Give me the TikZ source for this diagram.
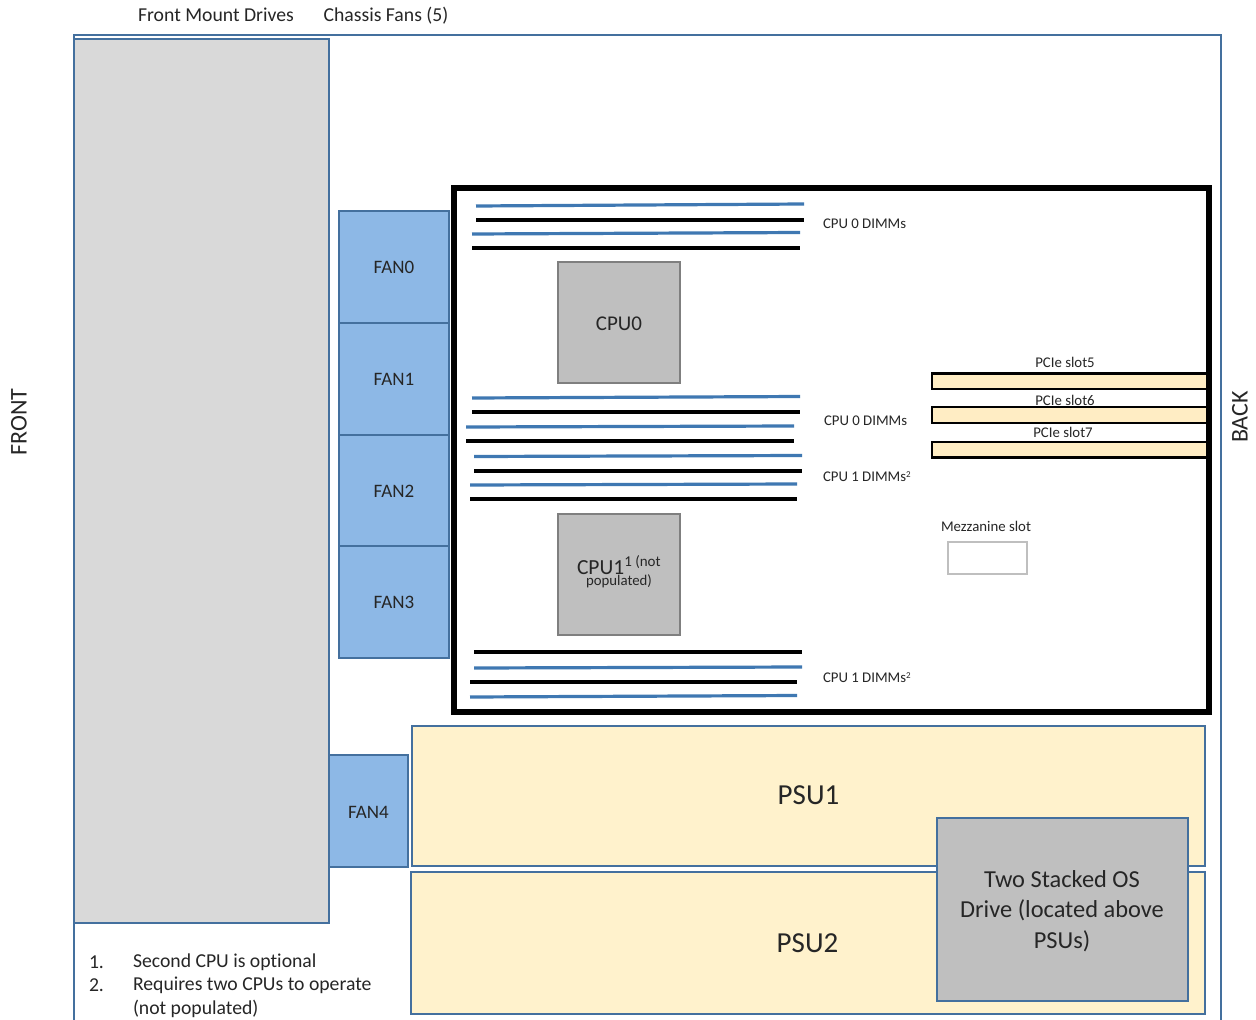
\documentclass[tikz,border=0pt]{standalone}
\usepackage{fontspec}
\setmainfont{Carlito}[Ligatures=NoCommon]
\definecolor{frameblue}{HTML}{44709E}
\definecolor{dimmblue}{HTML}{3F78B2}
\definecolor{drivegray}{HTML}{D9D9D9}
\definecolor{fanblue}{HTML}{8DB8E6}
\definecolor{psucream}{HTML}{FFF2CC}
\definecolor{pciecream}{HTML}{FFEDC4}
\definecolor{cpugray}{HTML}{BFBFBF}
\definecolor{cpuedge}{HTML}{7F7F7F}
\definecolor{txt}{HTML}{262626}
\newcommand{\pxfont}[1]{\fontsize{\dimexpr #1pt*3/4\relax}{\dimexpr #1pt*9/10\relax}\selectfont}
\newcommand{\dropby}[2]{\raisebox{-#1pt}[0.7em][0.2em]{#2}}
\newcommand{\bx}[7]{%
  \pgfmathsetlengthmacro{\bw}{(#4-#2)*0.75pt}%
  \pgfmathsetlengthmacro{\bh}{(#5-#3)*0.75pt}%
  \node[#6, minimum width=\bw, minimum height=\bh] (#1) at ({(#2+#4)/2},{(#3+#5)/2}) {#7};}
\tikzset{
  x=0.75pt, y=-0.75pt,
  boxbase/.style={draw, rectangle, inner sep=0pt, outer sep=0pt, text=txt, align=center},
  drivebox/.style={boxbase, draw=frameblue, line width=1.7pt, fill=drivegray},
  fanbox/.style={boxbase, draw=frameblue, line width=1.7pt, fill=fanblue, font=\pxfont{19}},
  psubox/.style={boxbase, draw=frameblue, line width=1.7pt, fill=psucream},
  osbox/.style={boxbase, draw=frameblue, line width=1.7pt, fill=cpugray},
  cpubox/.style={boxbase, draw=cpuedge, line width=1.9pt, fill=cpugray, font=\pxfont{21}},
  pciebox/.style={boxbase, draw=black, line width=1.9pt, fill=pciecream},
  mezzbox/.style={boxbase, draw=cpugray, line width=1.6pt, fill=white},
  board/.style={boxbase, draw=black, line width=4.2pt},
  bluedimm/.style={draw=dimmblue, line width=2.4pt},
  blackdimm/.style={draw=black, line width=2.4pt},
  lab/.style={inner sep=0pt, outer sep=0pt, text=txt},
  small/.style={lab, font=\pxfont{14.8}},
  big/.style={lab, font=\pxfont{19.7}},
  side/.style={lab, font=\pxfont{24}, rotate=90},
  note/.style={lab, font=\pxfont{19.7}, anchor=west},
}
\begin{document}
\begin{tikzpicture}
\useasboundingbox (0,0) rectangle (1256,1020);
\fill[white] (0,0) rectangle (1256,1020);
% chassis outline (runs off the bottom)
\draw[frameblue, line width=1.7pt] (74,1020) -- (74,35) -- (1221,35) -- (1221,1020);
\bx{drives}{74}{39}{329}{923}{drivebox}{}
\bx{fan0}{339}{211}{449}{323}{fanbox}{\dropby{1}{FAN0}}
\bx{fan1}{339}{323}{449}{435}{fanbox}{\dropby{1}{FAN1}}
\bx{fan2}{339}{435}{449}{546}{fanbox}{\dropby{1.5}{FAN2}}
\bx{fan3}{339}{546}{449}{658}{fanbox}{\dropby{1.5}{FAN3}}
\bx{fan4}{329}{755}{408}{867}{fanbox}{\dropby{2.2}{FAN4}}
\bx{psu1}{412}{726}{1205}{866}{psubox}{}
\bx{psu2}{411}{872}{1205}{1014}{psubox}{}
\node[lab, font=\pxfont{29}] (psu1t) at (808.5,795) {PSU1};
\node[lab, font=\pxfont{29}] (psu2t) at (807.5,943) {PSU2};
\bx{os}{937}{818}{1188}{1001}{osbox}{}
\node[lab, font=\pxfont{24.4}, align=center] (ostext) at (1062,911) {Two Stacked OS\\[1pt]Drive (located above\\[1pt]PSUs)};
% DIMMs
\draw[bluedimm] (476,206) -- (804,204);
\draw[blackdimm] (476,220) -- (804,220);
\draw[bluedimm] (472,234) -- (800,232.5);
\draw[blackdimm] (472,248) -- (800,248);
\draw[bluedimm] (472,398) -- (800,396.5);
\draw[blackdimm] (472,412) -- (800,412);
\draw[bluedimm] (466,427) -- (794,426);
\draw[blackdimm] (466,441) -- (794,441);
\draw[bluedimm] (474,456.5) -- (802,455.5);
\draw[blackdimm] (474,471) -- (802,471);
\draw[bluedimm] (470,485) -- (797,484);
\draw[blackdimm] (470,499) -- (797,499);
\draw[blackdimm] (474,652) -- (802,652);
\draw[bluedimm] (474,668) -- (802,667);
\draw[blackdimm] (470,682) -- (797,682);
\draw[bluedimm] (470,697) -- (797,695.5);
% CPUs
\bx{cpu0}{558}{262}{680}{383}{cpubox}{\dropby{1.8}{CPU0}}
\bx{cpu1}{558}{514}{680}{635}{cpubox}{}
\node[lab, font=\pxfont{21.5}, anchor=base west] (cpu1t) at (577,574) {CPU1\raisebox{5.5pt}{\pxfont{15}1 (not}};
\node[lab, font=\pxfont{14.8}] (cpu1p) at (619,581.5) {populated)};
% PCIe
\node[small] (p5) at (1065,362.5) {PCIe slot5};
\node[small] (p6) at (1065,400.5) {PCIe slot6};
\node[small] (p7) at (1063,432.5) {PCIe slot7};
\bx{pcie5}{932}{373.5}{1207}{389}{pciebox}{}
\bx{pcie6}{932}{407}{1207}{423}{pciebox}{}
\bx{pcie7}{932}{442}{1207}{457.5}{pciebox}{}
\bx{mezz}{948}{542}{1027}{574}{mezzbox}{}
\node[small] (mezzt) at (986,526.5) {Mezzanine slot};
\bx{boardbox}{454.2}{188}{1208.7}{712}{board}{}
% labels
\node[small, anchor=west] (d0a) at (823,224.2) {CPU 0 DIMMs};
\node[small, anchor=west] (d0b) at (824,421.2) {CPU 0 DIMMs};
\node[small, anchor=west] (d1a) at (823,476.2) {CPU 1 DIMMs\raisebox{3pt}{\pxfont{9}2}};
\node[small, anchor=west] (d1b) at (823,677.5) {CPU 1 DIMMs\raisebox{3pt}{\pxfont{9}2}};
\node[big] (fmd) at (216,15) {Front Mount Drives};
\node[big] (cf) at (386,15.5) {Chassis Fans (5)};
\node[side] (front) at (19,422) {FRONT};
\node[side] (back) at (1240,417) {BACK};
\node[note] (n1) at (89,962) {1.};
\node[note] (n1t) at (133,962) {Second CPU is optional};
\node[note] (n2) at (89,985.5) {2.};
\node[note] (n2t) at (133,985.5) {Requires two CPUs to operate};
\node[note] (n3t) at (133,1008.5) {(not populated)};
\end{tikzpicture}
\end{document}
